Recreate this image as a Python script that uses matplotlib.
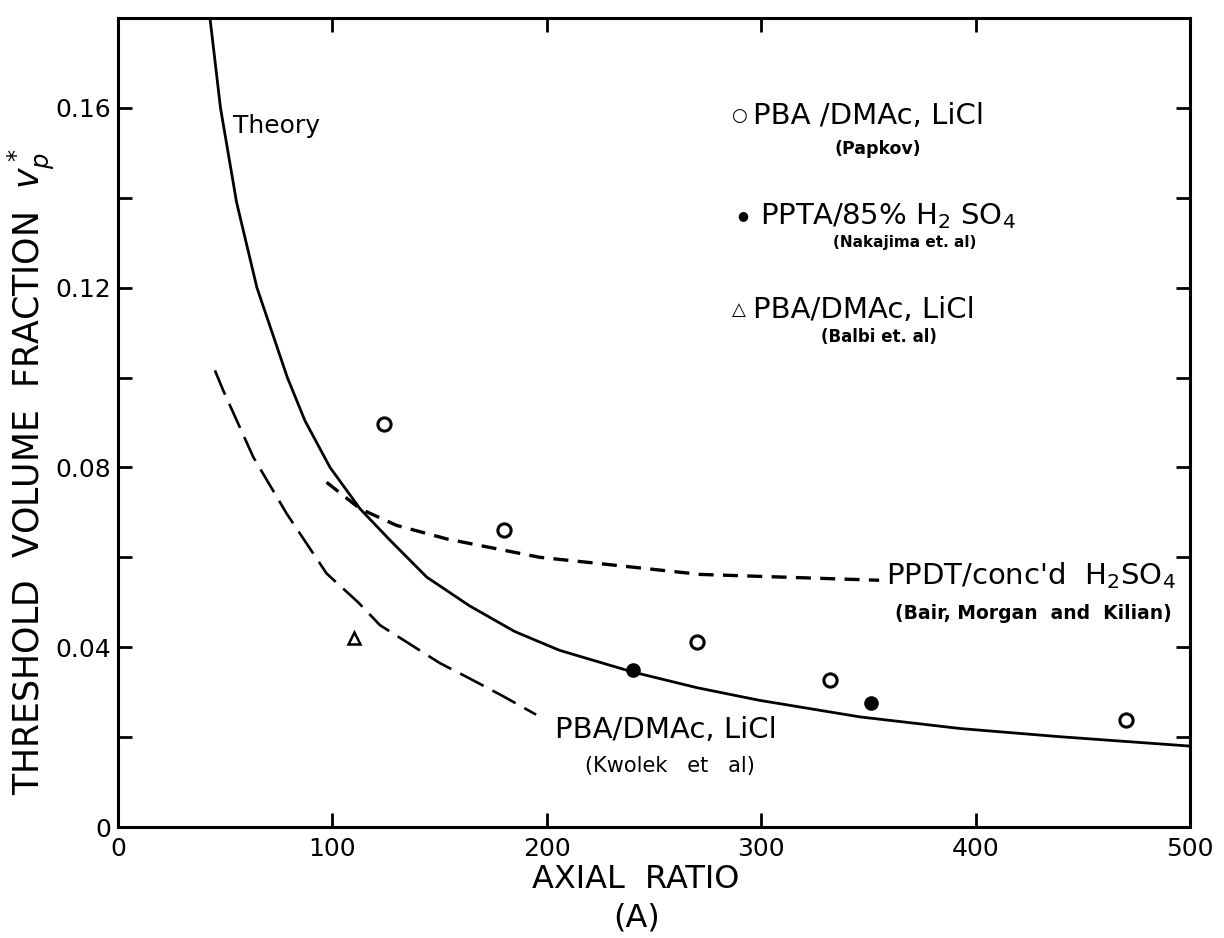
"""
Threshold volume fraction vs axial ratio (rod-like polymers)
"""

import matplotlib
matplotlib.use("Agg")
import matplotlib.pyplot as plt
from matplotlib.ticker import MultipleLocator, FuncFormatter

# Theory curve
theory_x = [42.9, 47.8, 55.3, 64.8, 79, 87.2, 98.9, 112.9, 126.9, 144, 164, 185,
            206, 240, 270, 299, 346, 393, 439, 500]
theory_y = [0.180, 0.160, 0.139, 0.120, 0.100, 0.0904, 0.080, 0.0708, 0.0638, 0.0556,
            0.0492, 0.0435, 0.0393, 0.0345, 0.031, 0.0282, 0.0245, 0.0219, 0.0201, 0.018]

# PPDT / conc'd H2SO4 (Bair, Morgan and Kilian)
ppdt_x = [97.3, 112.9, 130, 153.3, 176.6, 196.8, 224.8, 271.5, 355]
ppdt_y = [0.0767, 0.0708, 0.0671, 0.0641, 0.0619, 0.060, 0.0586, 0.0562, 0.0549]

# PBA / DMAc, LiCl (Kwolek et al)
kwolek_x = [45.2, 49.1, 63.1, 78.7, 97.3, 112, 122.2, 135.8, 150, 165, 180, 195]
kwolek_y = [0.1016, 0.0971, 0.0823, 0.0697, 0.0564, 0.050, 0.0449, 0.0408, 0.0365,
            0.0328, 0.029, 0.025]

# data points
papkov_x = [124, 180, 270, 332, 470]
papkov_y = [0.0897, 0.066, 0.0411, 0.0327, 0.0238]
nakajima_x = [240, 351]
nakajima_y = [0.0349, 0.0277]
balbi_x = [110]
balbi_y = [0.042]

fig = plt.figure(figsize=(12.24, 9.38), dpi=100)
ax = fig.add_axes([118 / 1224, 111 / 938, 1072 / 1224, 809 / 938])

ax.plot(theory_x, theory_y, color="black", lw=2.0)
ax.plot(ppdt_x, ppdt_y, color="black", lw=2.4, dashes=(4.5, 2.8))
ax.plot(kwolek_x, kwolek_y, color="black", lw=1.9, dashes=(10, 3.8))
ax.plot(papkov_x, papkov_y, "o", ms=9.5, mfc="white", mec="black", mew=2.2)
ax.plot(nakajima_x, nakajima_y, "o", ms=9.5, color="black")
ax.plot(balbi_x, balbi_y, "^", ms=9, mfc="white", mec="black", mew=1.8)

ax.set_xlim(0, 500)
ax.set_ylim(0, 0.18)
ax.xaxis.set_major_locator(MultipleLocator(100))
ax.yaxis.set_major_locator(MultipleLocator(0.04))
ax.yaxis.set_minor_locator(MultipleLocator(0.02))
ax.yaxis.set_major_formatter(FuncFormatter(lambda v, _: "0" if v == 0 else f"{v:.2f}"))
ax.tick_params(which="both", direction="in", top=True, right=True, width=2,
               length=10, labelsize=18)
ax.tick_params(axis="x", pad=7)
ax.tick_params(axis="y", pad=5)
for s in ax.spines.values():
    s.set_linewidth(2.2)

fig.text(636 / 1224, 1 - 879 / 938, "AXIAL  RATIO", ha="center", va="center", fontsize=23)
fig.text(637 / 1224, 1 - 918 / 938, "(A)", ha="center", va="center", fontsize=23)
fig.text(31 / 1224, 1 - 472 / 938, "THRESHOLD  VOLUME  FRACTION  $v_p^*$", rotation=90,
         ha="center", va="center", fontsize=25)

# curve labels
ax.text(53.6, 0.156, "Theory", fontsize=18, va="center")
ax.text(358, 0.056, "PPDT/conc'd  H$_2$SO$_4$", fontsize=21, va="center")
ax.text(426.8, 0.0476, "(Bair, Morgan  and  Kilian)", fontsize=13.5, fontweight="bold",
        ha="center", va="center")
ax.text(203.8, 0.0215, "PBA/DMAc, LiCl", fontsize=21, va="center")
ax.text(257.5, 0.0135, "(Kwolek   et   al)", fontsize=15, ha="center", va="center")

# key
ax.text(289.6, 0.1582, "○", fontsize=13, ha="center", va="center")
ax.text(296.2, 0.1582, "PBA /DMAc, LiCl", fontsize=21, va="center")
ax.text(354.5, 0.1509, "(Papkov)", fontsize=12.5, fontweight="bold", ha="center",
        va="center")
ax.text(291.5, 0.136, "●", fontsize=9, ha="center", va="center")
ax.text(299.4, 0.136, "PPTA/85% H$_2$ SO$_4$", fontsize=21, va="center")
ax.text(367, 0.130, "(Nakajima et. al)", fontsize=11, fontweight="bold",
        ha="center", va="center")
ax.text(289.6, 0.1151, "△", fontsize=13, ha="center", va="center")
ax.text(296.2, 0.1151, "PBA/DMAc, LiCl", fontsize=21, va="center")
ax.text(355, 0.1091, "(Balbi et. al)", fontsize=12, fontweight="bold",
        ha="center", va="center")

fig.savefig("out.png", dpi=100)
